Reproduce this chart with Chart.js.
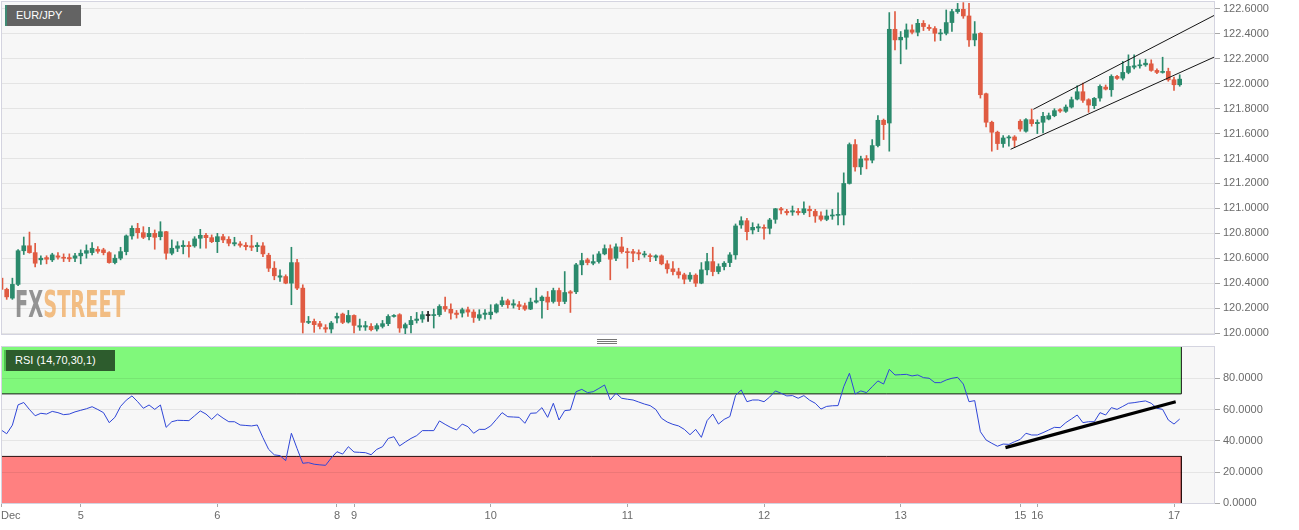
<!DOCTYPE html>
<html><head><meta charset="utf-8">
<script src="https://cdn.jsdelivr.net/npm/chart.js@4.4.1/dist/chart.umd.min.js"></script>
<style>
html,body{margin:0;padding:0;background:#fff;}
#wrap{position:relative;width:1299px;height:530px;overflow:hidden;font-family:"Liberation Sans",Arial,sans-serif;}
#c1box{position:absolute;left:0;top:0;width:1299px;height:340px;}
#c2box{position:absolute;left:0;top:340px;width:1299px;height:190px;}
.tag{position:absolute;color:#fff;font-size:11px;height:21px;line-height:21px;box-sizing:border-box;white-space:nowrap;}
#tag1{left:5px;top:5px;width:76px;background:#636363;border-left:2px solid #3f8a74;padding-left:9px;}
#tag2{left:4px;top:350px;width:111px;background:#2d5c2d;border-left:2px solid #4fc04f;padding-left:9px;}
.grip{position:absolute;left:597px;width:20px;height:1px;background:#777;}
#wm{position:absolute;left:15px;top:286px;font:bold 37px "DejaVu Sans Condensed","DejaVu Sans",sans-serif;line-height:37px;white-space:nowrap;transform-origin:0 0;opacity:0.8;pointer-events:none;}
</style></head>
<body>
<div id="wrap">
  <div id="c1box"><canvas id="c1"></canvas></div>
  <div id="c2box"><canvas id="c2"></canvas></div>
  <div class="tag" id="tag1">EUR/JPY</div>
  <div class="tag" id="tag2">RSI (14,70,30,1)</div>
  <div class="grip" style="top:339px"></div>
  <div class="grip" style="top:341px"></div>
  <div class="grip" style="top:343px"></div>
  <div id="wm"><span style="color:#7a7a7a">FX</span><span style="color:#f0ae66">STREET</span></div>
</div>
<script>
// ---- data (hourly candles, index 0 = first candle) ----
const opens = [
120.44,120.35,120.28,120.39,120.66,120.70,120.645,120.587,120.605,120.587,
120.619,120.608,120.605,120.60,120.619,120.64,120.645,120.672,120.667,120.645,
120.565,120.60,120.653,120.779,120.84,120.805,120.773,120.80,120.773,120.813,
120.64,120.68,120.693,120.704,120.699,120.76,120.784,120.765,120.733,120.773,
120.752,120.715,120.715,120.704,120.699,120.693,120.699,120.624,120.52,120.448,
120.453,120.40,120.565,120.36,120.085,120.093,120.075,120.043,120.032,120.12,
120.152,120.088,120.141,120.048,120.048,120.053,120.032,120.053,120.075,120.133,
120.147,120.04,120.067,120.101,120.112,120.14,120.14,120.147,120.213,120.19,
120.16,120.16,120.187,120.168,120.12,120.149,120.147,120.168,120.227,120.259,
120.224,120.227,120.219,120.192,120.248,120.259,120.288,120.253,120.341,120.253,
120.331,120.331,120.547,120.587,120.56,120.573,120.635,120.677,120.60,120.691,
120.653,120.653,120.645,120.627,120.621,120.608,120.619,120.555,120.515,120.491,
120.467,120.432,120.464,120.40,120.507,120.573,120.493,120.533,120.565,120.627,
120.867,120.901,120.827,120.843,120.848,120.84,120.912,120.997,120.976,120.971,
120.976,120.965,120.992,120.976,120.94,120.912,120.939,120.944,120.947,121.20,
121.512,121.333,121.40,121.387,121.504,121.707,121.685,122.437,122.352,122.373,
122.432,122.413,122.485,122.453,122.443,122.40,122.405,122.491,122.579,122.597,
122.544,122.352,122.405,121.92,121.691,121.611,121.52,121.565,121.573,121.699,
121.619,121.712,121.68,121.691,121.717,121.744,121.792,121.779,121.813,121.877,
121.936,121.872,121.824,121.885,121.973,121.952,122.059,122.045,122.091,122.133,
122.144,122.152,122.16,122.107,122.091,122.099,122.032,121.992];
const highs = [
120.46,120.36,120.44,120.67,120.77,120.81,120.72,120.62,120.62,120.64,
120.645,120.635,120.635,120.64,120.667,120.707,120.725,120.693,120.68,120.653,
120.627,120.688,120.787,120.859,120.88,120.853,120.848,120.827,120.893,120.815,
120.747,120.733,120.741,120.733,120.773,120.832,120.80,120.787,120.80,120.792,
120.773,120.768,120.733,120.725,120.784,120.725,120.725,120.64,120.573,120.507,
120.467,120.688,120.592,120.387,120.133,120.112,120.093,120.067,120.093,120.16,
120.16,120.181,120.145,120.112,120.093,120.075,120.075,120.101,120.147,120.147,
120.155,120.08,120.133,120.165,120.173,120.173,120.192,120.227,120.288,120.235,
120.181,120.20,120.208,120.187,120.187,120.187,120.227,120.235,120.288,120.272,
120.267,120.253,120.24,120.28,120.36,120.299,120.333,120.36,120.36,120.493,
120.341,120.56,120.64,120.60,120.627,120.653,120.707,120.707,120.715,120.768,
120.68,120.672,120.667,120.656,120.635,120.627,120.627,120.581,120.573,120.52,
120.48,120.485,120.475,120.565,120.64,120.688,120.555,120.573,120.645,120.875,
120.933,120.92,120.885,120.875,120.867,120.92,121.00,121.008,120.992,121.019,
121.00,121.053,121.019,120.992,120.973,120.987,120.992,121.125,121.285,121.525,
121.552,121.419,121.424,121.552,121.744,121.717,122.571,122.579,122.419,122.48,
122.472,122.517,122.507,122.472,122.459,122.437,122.592,122.597,122.645,122.651,
122.645,122.499,122.41,121.925,121.70,121.62,121.584,121.584,121.584,121.712,
121.72,121.797,121.71,121.771,121.765,121.80,121.80,121.83,121.893,121.984,
122.005,121.88,121.89,121.992,121.99,122.072,122.067,122.179,122.232,122.232,
122.192,122.197,122.192,122.12,122.213,122.125,122.053,122.072];
const lows = [
120.33,120.27,120.27,120.38,120.63,120.64,120.53,120.55,120.555,120.573,
120.592,120.573,120.573,120.573,120.555,120.60,120.627,120.64,120.627,120.56,
120.555,120.587,120.627,120.752,120.76,120.757,120.747,120.672,120.747,120.592,
120.627,120.653,120.635,120.608,120.688,120.68,120.68,120.725,120.645,120.725,
120.699,120.699,120.688,120.667,120.661,120.653,120.613,120.493,120.427,120.413,
120.395,120.227,120.347,120.00,120.075,120.005,120.032,120.005,120.00,120.08,
120.075,120.08,120.00,120.021,120.021,120.016,120.016,120.04,120.059,120.128,
120.005,119.987,120.00,120.08,120.085,120.093,120.04,120.133,120.173,120.112,
120.12,120.128,120.133,120.085,120.101,120.112,120.112,120.16,120.213,120.20,
120.20,120.187,120.181,120.187,120.24,120.12,120.187,120.24,120.219,120.235,
120.165,120.315,120.467,120.547,120.547,120.56,120.627,120.427,120.581,120.64,
120.52,120.573,120.587,120.608,120.573,120.581,120.547,120.48,120.467,120.44,
120.395,120.413,120.373,120.395,120.467,120.459,120.475,120.507,120.533,120.592,
120.84,120.747,120.795,120.813,120.752,120.795,120.88,120.955,120.947,120.944,
120.947,120.952,120.933,120.888,120.90,120.901,120.912,120.867,120.867,121.195,
121.299,121.272,121.317,121.365,121.493,121.552,121.459,122.272,122.16,122.277,
122.40,122.384,122.427,122.427,122.341,122.347,122.392,122.419,122.565,122.525,
122.30,122.304,121.885,121.653,121.459,121.472,121.49,121.499,121.493,121.619,
121.611,121.66,121.60,121.605,121.71,121.735,121.77,121.77,121.805,121.87,
121.85,121.771,121.80,121.86,121.95,121.899,122.035,122.03,122.08,122.12,
122.125,122.14,122.10,122.08,122.085,122.02,121.947,121.98];
const closes = [
120.35,120.29,120.39,120.66,120.70,120.645,120.56,120.60,120.592,120.627,
120.608,120.60,120.595,120.619,120.64,120.661,120.68,120.656,120.645,120.565,
120.60,120.653,120.779,120.84,120.805,120.768,120.80,120.768,120.813,120.64,
120.68,120.699,120.704,120.693,120.755,120.784,120.765,120.733,120.773,120.747,
120.72,120.725,120.704,120.693,120.688,120.704,120.635,120.52,120.459,120.459,
120.40,120.565,120.36,120.085,120.093,120.067,120.053,120.032,120.08,120.133,
120.085,120.141,120.061,120.059,120.059,120.027,120.059,120.075,120.133,120.141,
120.04,120.067,120.101,120.112,120.147,120.14,120.147,120.213,120.192,120.16,
120.149,120.187,120.168,120.125,120.147,120.16,120.168,120.227,120.259,120.227,
120.235,120.213,120.192,120.248,120.259,120.288,120.248,120.341,120.253,120.325,
120.32,120.547,120.581,120.565,120.573,120.635,120.677,120.592,120.691,120.653,
120.645,120.64,120.635,120.635,120.613,120.619,120.555,120.515,120.493,120.467,
120.432,120.464,120.40,120.507,120.573,120.493,120.533,120.56,120.627,120.859,
120.901,120.813,120.848,120.853,120.84,120.907,120.997,120.987,120.965,120.981,
120.965,120.997,120.981,120.939,120.912,120.939,120.947,120.949,121.20,121.512,
121.333,121.397,121.387,121.504,121.707,121.672,122.437,122.352,122.373,122.432,
122.413,122.485,122.459,122.443,122.405,122.405,122.491,122.579,122.597,122.544,
122.352,122.40,121.912,121.691,121.611,121.52,121.565,121.573,121.547,121.637,
121.712,121.68,121.69,121.739,121.744,121.784,121.781,121.813,121.872,121.936,
121.867,121.829,121.883,121.979,121.957,122.059,122.043,122.091,122.139,122.144,
122.152,122.165,122.107,122.091,122.099,122.032,121.992,122.037];
const rsi = [
47,44.5,50,63,64.5,60,56,57.6,57.1,58.8,
58,56.7,57.1,58.5,59.5,60.5,61.8,60,58,51.6,
55,62,66,68.7,65,60.8,62.9,60.1,62.9,48.6,
52.2,53.1,53,52.9,56,59.1,57.1,53.7,57.1,54.5,
52.2,52.2,50.1,49.8,49.5,50.1,42,34.5,31,30.5,
27.3,44.8,35,25.6,26,25,24.6,24.3,29,33,
31.5,36.2,32.8,32.6,32.4,31.1,34.5,36.2,41.5,42.6,
36.7,39.2,41.5,43.3,46.5,46.5,46.5,52.7,50.5,48.5,
46.9,50.7,49,44.8,47.3,47.3,49.5,53.7,58,55.4,
55.2,55,51.2,57.6,57.8,61.2,55,64,53.3,59.3,
59.7,71.4,72.9,70.8,71.4,73.5,75.7,66.1,70.4,67.2,
66.6,66.1,64.8,63.5,62.5,60,54.4,52,50.5,49.5,
47.3,43.9,47.3,42.2,52.9,57.1,50.7,53.7,55.5,69,
72.5,65,66.1,66.1,65,68,71.9,70.4,68.7,68.9,
67.2,68.9,66,64,60.3,62,62.4,62.5,74.6,83.2,
69.9,71.9,70.8,74.6,78.3,76.3,85.7,82.1,82.3,82.5,
81.5,82.1,80.4,80,77.2,77.2,78.9,80,80.6,76.3,
65,65.7,45.8,40.5,38.4,36.5,37.9,37.7,39.4,40.9,
44.8,43.7,43.7,45.2,46.9,48.6,48.4,51.6,54,56.5,
51.6,52.2,52.2,58,56.5,61.2,60.1,62,64,64.4,
65,65.5,64,60.8,60.1,53.3,50.7,53.9];
const tickIdx = [0,14,38,59,62,86,110,134,158,179,182,206];
const tickLabels = ['Dec','5','6','8','9','10','11','12','13','15','16','17'];
const priceTicks = [120.0,120.2,120.4,120.6,120.8,121.0,121.2,121.4,121.6,121.8,122.0,122.2,122.4,122.6];
const rsiTicks = [0,20,40,60,80];
const channelUpper = [{x:181.3,y:121.795},{x:213.2,y:122.552}];
const channelLower = [{x:177.3,y:121.474},{x:213.2,y:122.217}];
const rsiTrend = [{x:176.4,y:35.6},{x:206.3,y:65.0}];
const rsiHigh = 70, rsiLow = 30;

// ---- styling ----
const FONT = '"Liberation Sans", Arial, sans-serif';
Chart.defaults.font.family = FONT;
const UP = '#2b8a6c', DOWN = '#e05b42', DOJI = '#1e1e1e';
const candleColor = i => closes[i] > opens[i] ? UP : (closes[i] < opens[i] ? DOWN : DOJI);
const X_MIN = 0, X_MAX = 213.2;

const panel = {
  id: 'panel',
  beforeDraw(chart) {
    const {ctx, chartArea: a} = chart;
    ctx.save();
    ctx.fillStyle = '#ffffff'; ctx.fillRect(0, 0, chart.width, chart.height);
    ctx.fillStyle = '#f7f7f7'; ctx.fillRect(a.left, a.top, a.right - a.left, a.bottom - a.top);
    ctx.restore();
  },
  afterDraw(chart) {
    const {ctx, chartArea: a} = chart;
    ctx.save();
    ctx.strokeStyle = '#d4d4e0'; ctx.lineWidth = 1;
    ctx.strokeRect(a.left + 0.5, a.top + 0.5, a.right - a.left - 1, a.bottom - a.top - 1);
    ctx.restore();
  }
};

const yRight = (ticksArr) => ({
  position: 'right',
  afterBuildTicks: s => { s.ticks = ticksArr.map(v => ({value: v})); },
  afterFit: s => { s.width = 84; s.paddingTop = 0; s.paddingBottom = 0; },
  ticks: {callback: v => Number(v).toFixed(4), color: '#6a6a6a', font: {size: 11, family: FONT}, padding: 3},
  grid: {color: '#e4e4e4', tickColor: '#a8a8a8', tickLength: 5},
  border: {display: false}
});

// ---- price chart ----
new Chart(document.getElementById('c1'), {
  type: 'bar',
  data: {
    datasets: [
      {label: 'wick', data: highs.map((h, i) => ({x: i, y: [lows[i], h]})),
       backgroundColor: c => candleColor(c.dataIndex), barThickness: 1, grouped: false, order: 3},
      {label: 'body', data: opens.map((o, i) => ({x: i, y: [o, closes[i]]})),
       backgroundColor: c => candleColor(c.dataIndex), barThickness: 4, minBarLength: 1, grouped: false, order: 2},
      {type: 'line', label: 'upper', data: channelUpper, borderColor: '#151515', borderWidth: 1, pointRadius: 0, order: 1},
      {type: 'line', label: 'lower', data: channelLower, borderColor: '#151515', borderWidth: 1, pointRadius: 0, order: 1}
    ]
  },
  options: {
    responsive: true, maintainAspectRatio: false, animation: false, devicePixelRatio: 1,
    layout: {padding: {top: 1, left: 1, right: 0, bottom: 5}},
    plugins: {legend: {display: false}, tooltip: {enabled: false}},
    scales: {
      x: {type: 'linear', min: X_MIN, max: X_MAX, offset: false, display: false},
      y: Object.assign(yRight(priceTicks), {min: 119.984, max: 122.664})
    }
  },
  plugins: [panel]
});

// ---- RSI chart ----
const zoneEnd = rsi.length - 0.7;
const xLabels = {
  id: 'xLabels',
  afterDraw(chart) {
    const {ctx} = chart; const xs = chart.scales.x;
    ctx.save();
    ctx.font = '11px ' + FONT; ctx.fillStyle = '#6a6a6a'; ctx.textBaseline = 'middle';
    tickIdx.forEach((v, i) => {
      ctx.textAlign = i === 0 ? 'left' : 'center';
      ctx.fillText(tickLabels[i], xs.getPixelForValue(v), xs.top + 12);
    });
    ctx.restore();
  }
};
const ry = yRight(rsiTicks);
ry.grid = {color: 'rgba(0,0,0,0.07)', tickColor: '#a8a8a8', tickLength: 5, z: 1};
new Chart(document.getElementById('c2'), {
  type: 'line',
  data: {
    datasets: [
      {label: 'ob', data: [{x: 0, y: 100}, {x: 0, y: rsiHigh}, {x: zoneEnd, y: rsiHigh}, {x: zoneEnd, y: 100}],
       fill: {value: 100}, backgroundColor: '#80f87b', borderColor: '#1a1a1a', borderWidth: 1, pointRadius: 0, order: 5},
      {label: 'os', data: [{x: 0, y: 0}, {x: 0, y: rsiLow}, {x: zoneEnd, y: rsiLow}, {x: zoneEnd, y: 0}],
       fill: {value: 0}, backgroundColor: '#ff8080', borderColor: '#2a1010', borderWidth: 1, pointRadius: 0, order: 5},
      {label: 'rsi', data: rsi.map((v, i) => ({x: i, y: v})), borderColor: '#2f46d8', borderWidth: 1, pointRadius: 0, tension: 0, order: 2},
      {label: 'trend', data: rsiTrend, borderColor: '#000', borderWidth: 3.2, pointRadius: 0, order: 1}
    ]
  },
  options: {
    responsive: true, maintainAspectRatio: false, animation: false, devicePixelRatio: 1,
    layout: {padding: {top: 6, left: 1, right: 0, bottom: 0}},
    plugins: {legend: {display: false}, tooltip: {enabled: false}},
    scales: {
      x: {type: 'linear', min: X_MIN, max: X_MAX, offset: false,
          afterBuildTicks: s => { s.ticks = tickIdx.map(v => ({value: v})); },
          afterFit: s => { s.height = 26; s.paddingLeft = 0; s.paddingRight = 0; },
          ticks: {display: false},
          grid: {drawOnChartArea: false, drawTicks: true, tickLength: 3, tickColor: '#a8a8a8'},
          border: {display: false}},
      y: Object.assign(ry, {min: -0.45, max: 100.64})
    }
  },
  plugins: [panel, xLabels]
});

// watermark width fit
const wm = document.getElementById('wm');
wm.style.transform = 'scaleX(' + (110 / wm.offsetWidth) + ')';
</script>
</body></html>
